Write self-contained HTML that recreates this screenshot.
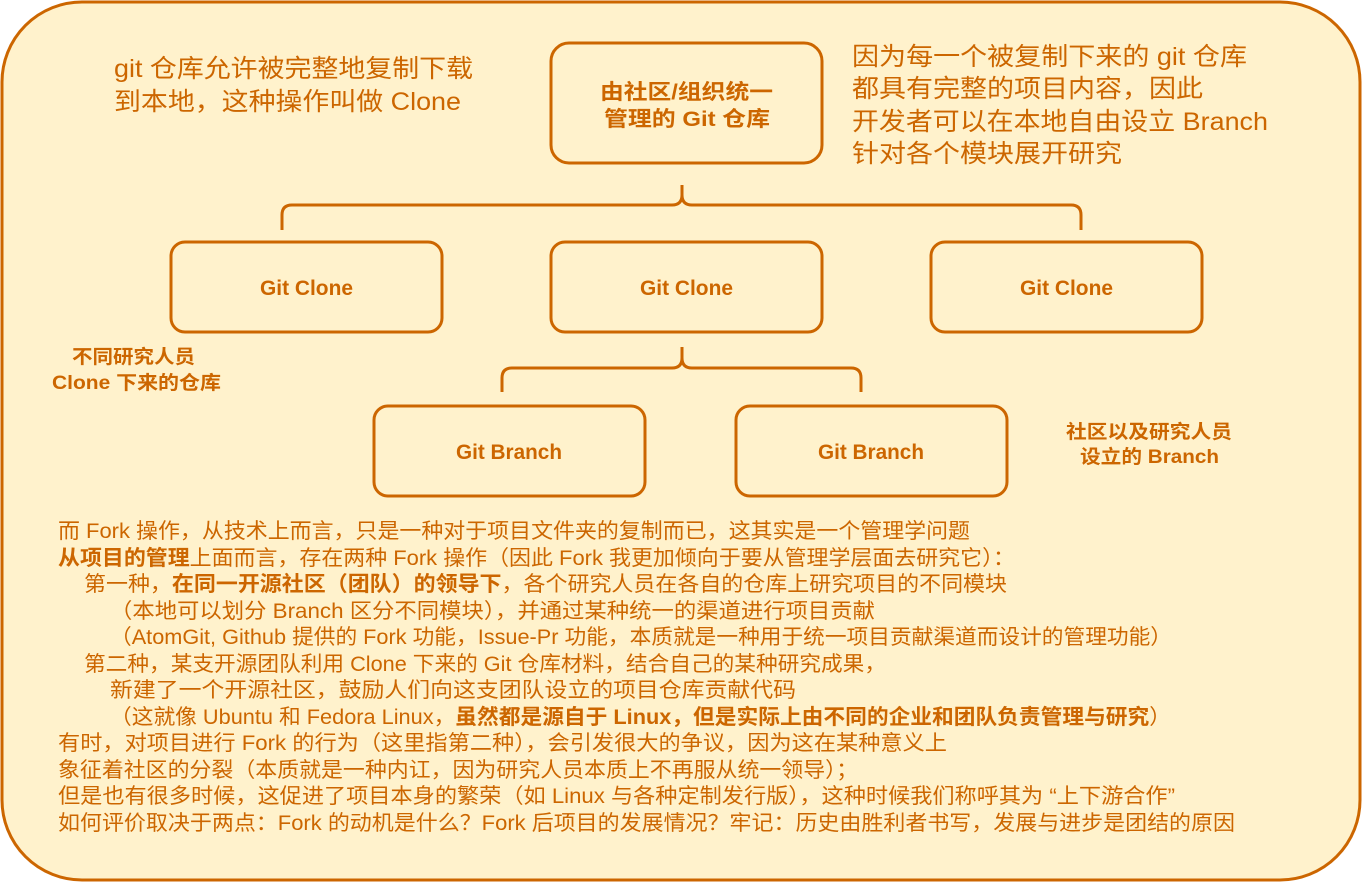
<!DOCTYPE html>
<html><head><meta charset="utf-8"><style>
body{margin:0;background:#fff;}
svg text{font-family:"Liberation Sans","Noto Sans CJK SC",sans-serif;fill:#cc6600;}
</style></head><body>
<svg width="1363" height="883" xmlns="http://www.w3.org/2000/svg">
<rect x="2" y="2" width="1358" height="878" rx="80" fill="#fff2cc" stroke="#cc6600" stroke-width="3"/>
<g fill="none" stroke="#cc6600" stroke-width="3">
<rect x="551" y="43" width="271" height="120" rx="18"/>
<rect x="171" y="242" width="271" height="90" rx="14"/>
<rect x="551" y="242" width="271" height="90" rx="14"/>
<rect x="931" y="242" width="271" height="90" rx="14"/>
<rect x="374" y="406" width="271" height="90" rx="14"/>
<rect x="736" y="406" width="271" height="90" rx="14"/>
<path d="M282,230 V215 Q282,205 292,205 H672 Q682,205 682,195 V185 M682,195 Q682,205 692,205 H1071 Q1081,205 1081,215 V230"/>
<path d="M502,392 V378 Q502,368 512,368 H672 Q682,368 682,358 V347 M682,358 Q682,368 692,368 H851 Q861,368 861,378 V392"/>
</g>
<g font-size="21" font-weight="bold" lengthAdjust="spacingAndGlyphs">
<text x="600" y="99" textLength="173" lengthAdjust="spacingAndGlyphs">由社区/组织统一</text>
<text x="604" y="126" textLength="166" lengthAdjust="spacingAndGlyphs">管理的 Git 仓库</text>
<text x="260" y="295" textLength="93" lengthAdjust="spacingAndGlyphs">Git Clone</text>
<text x="640" y="295" textLength="93" lengthAdjust="spacingAndGlyphs">Git Clone</text>
<text x="1020" y="295" textLength="93" lengthAdjust="spacingAndGlyphs">Git Clone</text>
<text x="456" y="459" textLength="106" lengthAdjust="spacingAndGlyphs">Git Branch</text>
<text x="818" y="459" textLength="106" lengthAdjust="spacingAndGlyphs">Git Branch</text>
</g>
<g font-size="19" font-weight="bold">
<text x="72" y="363" textLength="123" lengthAdjust="spacingAndGlyphs">不同研究人员</text>
<text x="52" y="389" textLength="169" lengthAdjust="spacingAndGlyphs">Clone 下来的仓库</text>
<text x="1066" y="438" textLength="166" lengthAdjust="spacingAndGlyphs">社区以及研究人员</text>
<text x="1080" y="463" textLength="139" lengthAdjust="spacingAndGlyphs">设立的 Branch</text>
</g>
<g font-size="25">
<text x="114" y="77" textLength="359" lengthAdjust="spacingAndGlyphs">git 仓库允许被完整地复制下载</text>
<text x="114" y="110" textLength="347" lengthAdjust="spacingAndGlyphs">到本地，这种操作叫做 Clone</text>
<text x="852" y="65" textLength="395" lengthAdjust="spacingAndGlyphs">因为每一个被复制下来的 git 仓库</text>
<text x="852" y="97" textLength="351" lengthAdjust="spacingAndGlyphs">都具有完整的项目内容，因此</text>
<text x="852" y="130" textLength="416" lengthAdjust="spacingAndGlyphs">开发者可以在本地自由设立 Branch</text>
<text x="852" y="162" textLength="270" lengthAdjust="spacingAndGlyphs">针对各个模块展开研究</text>
</g>
<g font-size="21">
<text x="58" y="538" textLength="912" lengthAdjust="spacingAndGlyphs">而 Fork 操作，从技术上而言，只是一种对于项目文件夹的复制而已，这其实是一个管理学问题</text>
<text x="58" y="565" textLength="957" lengthAdjust="spacingAndGlyphs"><tspan font-weight="bold">从项目的管理</tspan>上面而言，存在两种 Fork 操作（因此 Fork 我更加倾向于要从管理学层面去研究它）：</text>
<text x="84" y="591" textLength="923" lengthAdjust="spacingAndGlyphs">第一种，<tspan font-weight="bold">在同一开源社区（团队）的领导下</tspan>，各个研究人员在各自的仓库上研究项目的不同模块</text>
<text x="110" y="618" textLength="765" lengthAdjust="spacingAndGlyphs">（本地可以划分 Branch 区分不同模块），并通过某种统一的渠道进行项目贡献</text>
<text x="110" y="644" textLength="1062" lengthAdjust="spacingAndGlyphs">（AtomGit, Github 提供的 Fork 功能，Issue-Pr 功能，本质就是一种用于统一项目贡献渠道而设计的管理功能）</text>
<text x="84" y="671" textLength="802" lengthAdjust="spacingAndGlyphs">第二种，某支开源团队利用 Clone 下来的 Git 仓库材料，结合自己的某种研究成果，</text>
<text x="110" y="697" textLength="686" lengthAdjust="spacingAndGlyphs">新建了一个开源社区，鼓励人们向这支团队设立的项目仓库贡献代码</text>
<text x="110" y="724" textLength="1061" lengthAdjust="spacingAndGlyphs">（这就像 Ubuntu 和 Fedora Linux，<tspan font-weight="bold">虽然都是源自于 Linux，但是实际上由不同的企业和团队负责管理与研究</tspan>）</text>
<text x="58" y="750" textLength="889" lengthAdjust="spacingAndGlyphs">有时，对项目进行 Fork 的行为（这里指第二种），会引发很大的争议，因为这在某种意义上</text>
<text x="58" y="777" textLength="800" lengthAdjust="spacingAndGlyphs">象征着社区的分裂（本质就是一种内讧，因为研究人员本质上不再服从统一领导）；</text>
<text x="58" y="803" textLength="1117" lengthAdjust="spacingAndGlyphs">但是也有很多时候，这促进了项目本身的繁荣（如 Linux 与各种定制发行版），这种时候我们称呼其为 “上下游合作”</text>
<text x="58" y="830" textLength="1177" lengthAdjust="spacingAndGlyphs">如何评价取决于两点：Fork 的动机是什么？Fork 后项目的发展情况？牢记：历史由胜利者书写，发展与进步是团结的原因</text>
</g>
</svg>
</body></html>
